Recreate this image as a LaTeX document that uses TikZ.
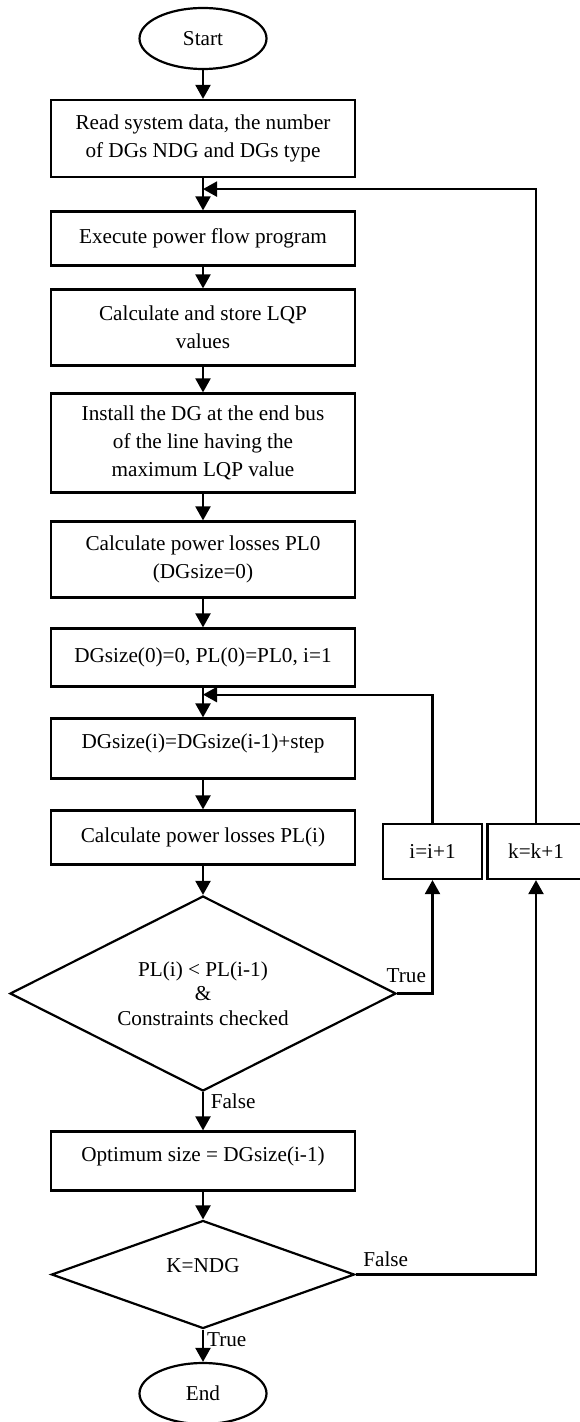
\documentclass[tikz,border=0pt]{standalone}
\usepackage{fontspec}
\setmainfont{Liberation Serif}
\usetikzlibrary{shapes.geometric, arrows.meta}
\tikzstyle{startstop} = [ellipse, minimum width=63.5pt, minimum height=30.5pt, inner sep=0pt, text centered, draw=black, line width=1.1pt]
\tikzstyle{process} = [rectangle, minimum width=152pt, minimum height=27pt, inner sep=2pt, align=center, draw=black, line width=1.1pt]
\tikzstyle{decision} = [diamond, aspect=2, inner sep=0pt, align=center, draw=black, line width=1.1pt, font=\fontsize{10.6pt}{12.25pt}\selectfont]
\tikzstyle{counter} = [rectangle, minimum width=49.5pt, minimum height=27.5pt, inner sep=0pt, text centered, draw=black, line width=1.1pt]
\tikzstyle{arrow} = [line width=1.1pt, -{Triangle[length=7pt,width=7.5pt]}]

\begin{document}
\begin{tikzpicture}[node distance=50pt, font=\fontsize{10.6pt}{14pt}\selectfont]
\useasboundingbox (0,0) rectangle (289.5pt,-711pt);

\node (start) [startstop] at (101.5pt,-19.25pt) {Start};
\node (pro1) [process, below of=start, minimum height=38.5pt] {Read system data, the number\\of DGs NDG and DGs type};
\node (pro2) [process, below of=pro1] {Execute power flow program};
\node (pro3) [process, below of=pro2, yshift=5.5pt, minimum height=38pt] {Calculate and store LQP\\values};
\node (pro4) [process, below of=pro3, yshift=-7.75pt, minimum height=49.5pt] {Install the DG at the end bus\\of the line having the\\maximum LQP value};
\node (pro5) [process, below of=pro4, yshift=-8.25pt, minimum height=38pt] {Calculate power losses PL0\\(DGsize=0)};
\node (pro6) [process, below of=pro5, yshift=1pt, minimum height=29pt] {DGsize(0)=0, PL(0)=PL0, i=1};
\node (pro7) [process, below of=pro6, yshift=4.5pt, minimum height=30pt, text depth=7.3pt] {DGsize(i)=DGsize(i-1)+step};
\node (pro8) [process, below of=pro7, yshift=5.5pt] {Calculate power losses PL(i)};
\node (dec1) [decision, below of=pro8, yshift=-28pt, minimum width=193pt, minimum height=97.5pt] {PL(i) < PL(i-1)\\\&\\Constraints checked};
\node (pro9) [process, below of=dec1, yshift=-33.75pt, minimum height=29.5pt, text depth=7pt] {Optimum size = DGsize(i-1)};
\node (dec2) [decision, below of=pro9, yshift=-6.75pt, minimum width=151.5pt, minimum height=54pt, text depth=9pt] {K=NDG};
\node (stop) [startstop, below of=dec2, yshift=-9.5pt] {End};
\node (pro10) [counter, right of=pro8, xshift=64.75pt, yshift=-7pt] {i=i+1};
\node (pro11) [counter, right of=pro10, xshift=1.75pt, minimum width=48.5pt] {k=k+1};

\coordinate (jn1) at ([yshift=-5.5pt]pro1.south);
\coordinate (jn2) at ([yshift=-3.5pt]pro6.south);

\draw [arrow] (start) -- (pro1);
\draw [arrow] (pro1) -- (pro2);
\draw [arrow] (pro2) -- (pro3);
\draw [arrow] (pro3) -- (pro4);
\draw [arrow] (pro4) -- (pro5);
\draw [arrow] (pro5) -- (pro6);
\draw [arrow] (pro6) -- (pro7);
\draw [arrow] (pro7) -- (pro8);
\draw [arrow] (pro8) -- (dec1);
\draw [arrow] (dec1) -- node[pos=0.24, anchor=west] {False} (pro9);
\draw [arrow] (dec1.east) -| node[pos=0.13, anchor=south, yshift=1.5pt] {True} (pro10.south);
\draw [arrow] (pro10.north) |- (jn2);
\draw [arrow] (pro9) -- (dec2);
\draw [arrow] (dec2.east) -| node[pos=0, anchor=south west] {False} (pro11.south);
\draw [arrow] (pro11.north) |- (jn1);
\draw [arrow] (dec2) -- node[pos=0.31, anchor=west, inner sep=1.5pt] {True} (stop);

\end{tikzpicture}
\end{document}
